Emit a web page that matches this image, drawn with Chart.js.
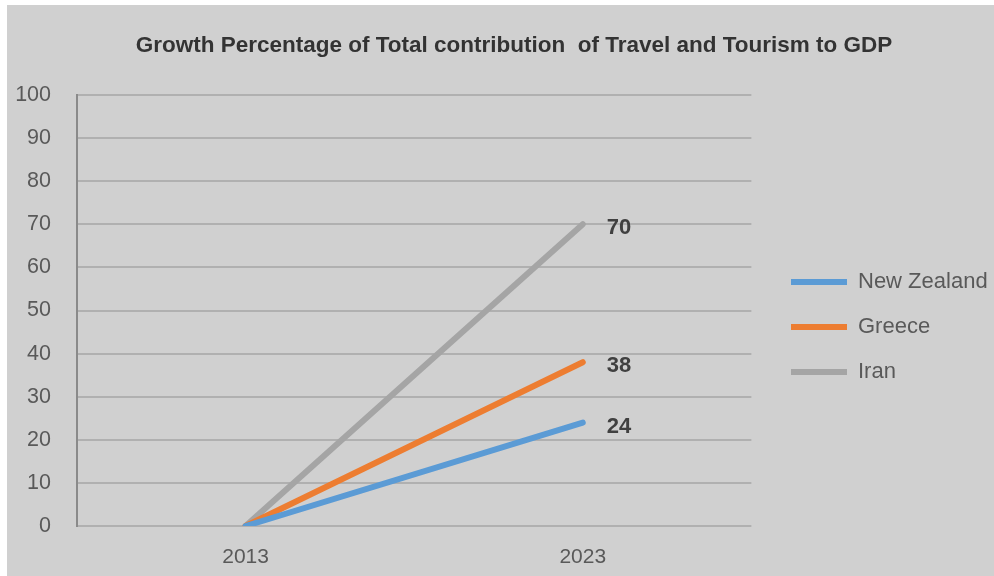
<!DOCTYPE html>
<html>
<head>
<meta charset="utf-8">
<script src="https://cdn.jsdelivr.net/npm/chart.js@4/dist/chart.umd.min.js"></script>
<style>
  html, body { margin: 0; padding: 0; background: #fff; }
  #wrap { position: absolute; left: 7px; top: 5px; width: 987px; height: 571px; background: #d0d0d0; }
</style>
</head>
<body>
<div id="wrap"><canvas id="myChart" width="987" height="571"></canvas></div>
<script>
const years = ['2013', '2023'];
const newZealand = [0, 24];
const greece = [0, 38];
const iran = [0, 70];
const yMin = 0;
const yMax = 100;
const yStep = 10;

const fontFamily = '"Liberation Sans", Arial, sans-serif';

// value labels at the end of each line
const endLabels = {
    id: 'endLabels',
    afterDatasetsDraw(chart) {
        const ctx = chart.ctx;
        ctx.save();
        ctx.font = 'bold 22px ' + fontFamily;
        ctx.fillStyle = '#404040';
        ctx.textAlign = 'left';
        ctx.textBaseline = 'middle';
        chart.data.datasets.forEach((ds, i) => {
            const meta = chart.getDatasetMeta(i);
            const last = meta.data.length - 1;
            const pt = meta.data[last];
            ctx.fillText(ds.data[last], pt.x + 24, pt.y + 4);
        });
        ctx.restore();
    }
};

// nudge legend and title to where the original has them
const boxSpots = {
    id: 'boxSpots',
    afterLayout(chart) {
        const lg = chart.legend;
        if (lg) {
            const w = lg.right - lg.left;
            const h = lg.bottom - lg.top;
            lg.left = 761;
            lg.right = lg.left + w;
            lg.top = 243;
            lg.bottom = lg.top + h;
        }
        const tb = chart.titleBlock;
        if (tb) {
            tb.left += 20;
            tb.right += 20;
        }
    }
};

const data = {
    labels: years,
    datasets: [
        { label: 'New Zealand', data: newZealand, borderColor: '#5b9bd5', backgroundColor: '#5b9bd5' },
        { label: 'Greece', data: greece, borderColor: '#ed7d31', backgroundColor: '#ed7d31' },
        { label: 'Iran', data: iran, borderColor: '#a5a5a5', backgroundColor: '#a5a5a5' }
    ].map(d => Object.assign(d, {
        borderWidth: 6,
        borderCapStyle: 'round',
        pointRadius: 0,
        tension: 0
    }))
};

const config = {
    type: 'line',
    data: data,
    options: {
        responsive: false,
        animation: false,
        layout: { padding: { left: 0, right: 13, top: 0, bottom: 0 } },
        plugins: {
            title: {
                display: true,
                text: 'Growth Percentage of Total contribution  of Travel and Tourism to GDP',
                color: '#333333',
                font: { family: fontFamily, size: 22.5, weight: 'bold' },
                padding: { top: 27, bottom: 36 }
            },
            legend: {
                display: true,
                position: 'right',
                align: 'start',
                labels: {
                    usePointStyle: true,
                    pointStyle: 'line',
                    pointStyleWidth: 56,
                    padding: 23,
                    color: '#595959',
                    font: { family: fontFamily, size: 22 }
                }
            },
            tooltip: { enabled: false }
        },
        scales: {
            x: {
                offset: true,
                afterFit(axis) {
                    axis.height = 50;
                },
                grid: { display: false, drawTicks: false },
                border: { display: false },
                ticks: {
                    color: '#595959',
                    padding: 19,
                    font: { family: fontFamily, size: 21 }
                }
            },
            y: {
                min: yMin,
                max: yMax,
                afterFit(axis) {
                    axis.width = 70;
                },
                grid: { color: '#b0b0b0', lineWidth: 2, drawTicks: false },
                border: { display: true, color: '#8a8a8a', width: 2 },
                ticks: {
                    stepSize: yStep,
                    color: '#595959',
                    padding: 26,
                    font: { family: fontFamily, size: 21.5 }
                }
            }
        }
    },
    plugins: [endLabels, boxSpots]
};

const myChart = new Chart(document.getElementById('myChart'), config);
</script>
</body>
</html>
